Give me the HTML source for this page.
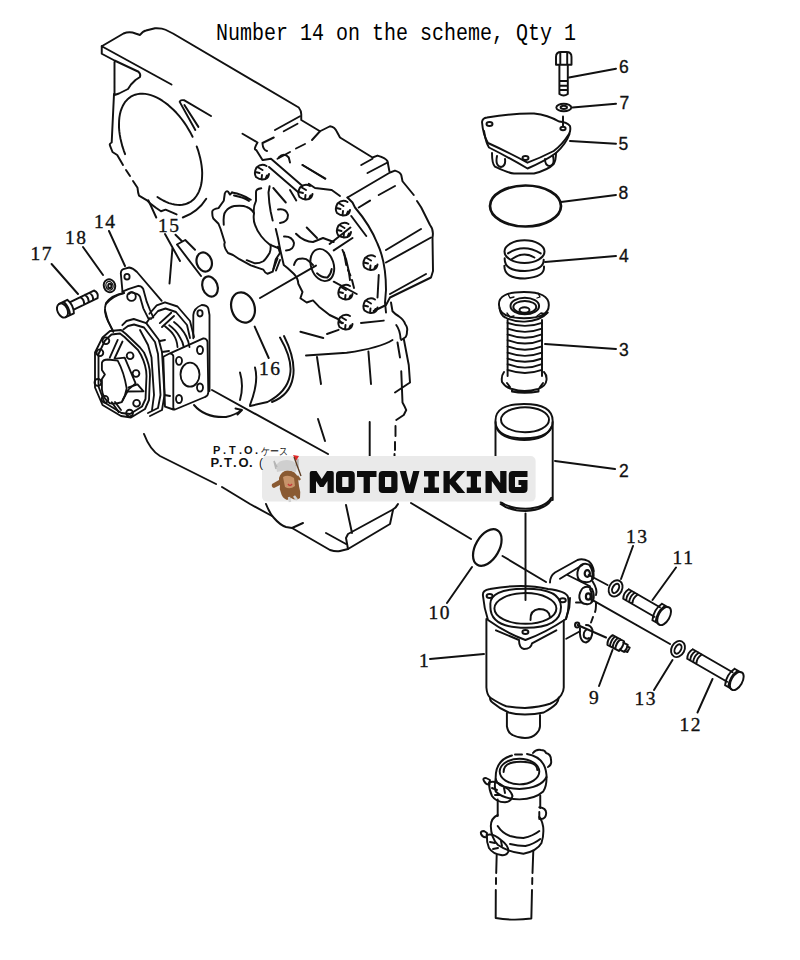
<!DOCTYPE html>
<html><head><meta charset="utf-8">
<style>
html,body{margin:0;padding:0;background:#fff;}
body{width:800px;height:960px;overflow:hidden;position:relative;}
svg{position:absolute;left:0;top:0;}
.t{font-family:"Liberation Mono",monospace;font-size:20px;fill:#000;}
.n{font-family:"Liberation Serif",serif;font-size:19.5px;fill:#111;stroke:#111;stroke-width:0.35;letter-spacing:1.6px;}
.s{font-family:"Liberation Sans",sans-serif;font-size:17.5px;fill:#111;stroke:#111;stroke-width:0.3;}
.wm{font-family:"Liberation Sans",sans-serif;font-weight:bold;font-size:33px;fill:#0a0a0a;stroke:#0a0a0a;stroke-width:1.6;}
.jp{font-family:"Liberation Sans",sans-serif;font-size:11px;fill:#111;}
</style></head><body>
<svg width="800" height="960" viewBox="0 0 800 960">
<g fill="none" stroke="#111" stroke-width="1.95" stroke-linecap="round" stroke-linejoin="round">
<!-- ===== leaders right ===== -->
<path d="M569 77.5L616 68.7M572.5 107.5L616 103.7M570 141L616 143.7M561 202L616 195M545 262L616 256M545 344L616 349M555 461L615 469"/>
<path d="M633 546L621 579M676 567.5L652.5 600M712.5 679L697.5 712.5M672.5 660L654 690M612.5 650L599 686M430 659L484 654M447 603L472 567"/>
<!-- ===== leaders left ===== -->
<path d="M109 231L125 266M83 247L103 275M51.6 264L78 294M254.7 326.6L268.7 358"/>
<!-- ===== bolt 6 ===== -->
<path d="M556 64.7V57Q556 52 561 52H566.5Q571.5 52 571.5 57V64.7ZM560.3 53V64.5M567.2 53V64.5M559.4 64.7V94Q563.6 97 567.8 94V64.7M559.4 81H567.8M559.4 85.8H567.8M559.4 90H567.8"/>
<ellipse cx="563.8" cy="107.5" rx="7.5" ry="3.8" stroke-width="1.9"/>
<ellipse cx="563.8" cy="107.3" rx="3.2" ry="1.6"/>
<!-- ===== cover 5 ===== -->
<path d="M482 122Q482.5 118 487 117.5Q515 113 534 113.5Q548 115 559 121.5Q567 122 570 126Q571 131 569 134Q562 145 553.7 151Q540 158 527.5 162.7Q510 153 488 143Q483 135 482 122Z"/>
<path d="M484 131Q486 143 489 147.5Q508 157 527.5 168.5Q545 161 556 153Q566 144 569.5 134"/>
<path d="M492 153Q492 164 495 166.7Q508 173 514 173.5H534Q548 170 553.7 164Q556 160 556 153"/>
<path d="M497 156Q495 166 501 167Q506 166 505 159M545 159Q545 166 550 166Q555 165 553 156"/>
<ellipse cx="489.5" cy="124" rx="3" ry="2"/><ellipse cx="563" cy="128.5" rx="2.6" ry="1.8"/><ellipse cx="525.5" cy="158" rx="3" ry="2"/>
<path d="M563 116.5V126.5"/>
<!-- ===== o-ring 8 ===== -->
<ellipse cx="525.5" cy="206" rx="35.5" ry="20.5" stroke-width="2.7"/>
<!-- ===== spring 4 ===== -->
<g stroke-width="2">
<ellipse cx="524.5" cy="251.6" rx="20" ry="11.3"/>
<path d="M508 253.4Q523.5 243 540.7 253.4M512 259Q523.5 251 534.4 257.5"/>
<path d="M504.7 258.2Q504 271 525 271Q544 270 543.7 259.7M504.4 265.7Q504 278.5 525 278.5Q545 277 544 266.5"/>
</g>
<!-- ===== filter 3 ===== -->
<path d="M499 305Q498 292 524 292Q549 292 548.8 305Q549 318 524 318.2Q499 318 499 305Z"/>
<path d="M499.6 308Q500 315 505.3 317.5Q514 322 524.8 321.6Q540 321 547.7 312.5"/>
<ellipse cx="524.8" cy="306" rx="14.3" ry="8.3"/>
<ellipse cx="524.8" cy="307" rx="11.5" ry="6"/>
<ellipse cx="524.5" cy="310" rx="5" ry="2.8"/>
<path d="M508 294L510 298L514 297M538 293L540 297L537 298M507 313L510 317L514 316M537 316L541 313L546 314" stroke-width="1.3"/>
<path d="M507.6 322.8Q525 329 542 322.8M507.6 328.7Q525 335 542 328.7M507.6 334.4Q525 341 542 334.4M507.6 340.1Q525 347 542 340.1M507.6 346.4Q525 353 542 346.4M507.6 352.7Q525 359 542 352.7M507.6 358.5Q525 365 542 358.5M507.6 364.2Q525 371 542 364.2M507.6 369.9Q525 376 542 369.9" stroke-width="1.9"/>
<path d="M507.6 320V376M542 320V376"/>
<path d="M504 372Q501 376 502 382Q506 388 512 389Q524 393 538 389Q546 386 546.5 380Q547 375 544 372M507 383L510 387M540 387L543 383M512 389V391.5Q524 394 538.5 391.5V389"/>
<!-- ===== cylinder 2 ===== -->
<path d="M495.5 421Q495 404 524 404Q552.7 404 552.7 421Q552.7 438 524 438.3Q495.5 438 495.5 421Z" stroke-width="1.9"/>
<ellipse cx="525" cy="419.7" rx="24" ry="12.5"/>
<path d="M496.5 428Q502 439.6 524.2 440Q546 439.6 551.5 427"/>
<path d="M495.5 422V498M552.7 422V500"/>
<path d="M500.6 502Q510 508.7 525.6 508.7Q545 508 551.3 497.8M500.6 504Q510 511 525.6 511Q545 510 551.3 500"/>
<path d="M525.5 513.5V600"/>
<!-- ===== o-ring 10 ===== -->
<ellipse cx="487.3" cy="547.5" rx="11.8" ry="20" transform="rotate(30 487.3 547.5)" stroke-width="2.2"/>
<!-- alignment lines -->
<path d="M212 390L328 454M411 503L471 539M502.5 556L546 582M588.7 575L607.5 585M590 598.7L670 644M577.5 625L606 637.5"/>
<path d="M260 298L316 265.6"/>
<!-- ===== housing 1 ===== -->
<path d="M483 596Q482 590 490 589Q523 583 548 589Q566 591 568 597Q570 606 566 619Q545 633 525.4 640Q506 633 488 620Q484 608 483 596Z"/>
<path d="M490.4 605Q489 588.8 525.7 588.8Q561 588.8 561 607Q561 627.8 525.7 627.8Q490.4 627.8 490.4 607Z"/>
<ellipse cx="525.4" cy="608.4" rx="31" ry="15.4"/>
<path d="M530.5 620Q530 610 539 609Q549 609 550 617"/>
<ellipse cx="489.6" cy="596" rx="3" ry="2"/><ellipse cx="562.8" cy="600.2" rx="3" ry="2"/><ellipse cx="525.4" cy="632" rx="3" ry="2"/>
<path d="M496 630.3L519 640Q519 648 524 649Q531 649 532 643.3L556.3 630.3"/>
<path d="M566 619L569.3 607.5L570 598"/>
<path d="M486.4 619V687.5Q487 695 490 697.5Q500 704 506.25 706.25Q515 708 525 708Q540 707 550 703.75Q558 700 561.25 695Q563.75 691 563.75 687.5V620.5"/>
<path d="M490 697.5Q490 701 492.5 702.5Q500 709 508.75 712.5Q515 714.4 525 714.4Q535 714.4 543.75 712.5Q552 708 556.25 703.75Q558.75 700 558.75 697.5"/>
<path d="M506.9 713V726.25Q508 733 512.5 735Q518 738 525 738Q532 738 536.25 733.75Q540 730 540 726.25V715"/>

<!-- bracket -->
<path d="M550 582.5Q550 576 555 572.5L577.5 560Q582.5 558 588.75 561.25Q593 565 593.75 571"/>
<path d="M560 578.75L582.5 565M567.5 575L590 586.25"/>
<path d="M581 565Q586 562 591 566Q595 572 593 579Q590 583 585 582M580 566Q576 572 578 578Q580 582 585 582"/>
<path d="M590 566Q594 572 592 579"/>
<ellipse cx="587.3" cy="573.5" rx="2.6" ry="3.4" stroke-width="2.2"/>
<path d="M583 588Q588 585 592 589Q595 595 593 601Q590 605 586 604M582 589Q578 595 580 600Q582 604 586 604"/>
<path d="M590 589Q593 595 591.5 601"/>
<ellipse cx="588.3" cy="596.5" rx="2.4" ry="3.2" stroke-width="2.2"/>
<path d="M592.5 581.25Q598 590 596 595M596 603Q596 610 595 612M593 617Q592 620 591 622.5"/>
<path d="M580 628Q579 642 586 642.5Q592.5 640 592.5 630Q591 625 586 625M586 630Q583 632 584 637Q587 640 589 638"/>
<ellipse cx="577.2" cy="625" rx="2.2" ry="2.5"/>
<path d="M566.25 638.75L580 631.25M576 602.5L581 602.5"/>
<!-- washers 13 -->
<ellipse cx="615.6" cy="588.4" rx="6.5" ry="8.5" transform="rotate(28 615.6 588.4)" stroke-width="1.9"/>
<ellipse cx="615.6" cy="588.4" rx="3" ry="5" transform="rotate(28 615.6 588.4)"/>
<ellipse cx="678" cy="649" rx="6.5" ry="8.5" transform="rotate(28 678 649)" stroke-width="1.9"/>
<ellipse cx="678" cy="649" rx="3" ry="5" transform="rotate(28 678 649)"/>
<!-- bolt 11 -->
<g transform="translate(626 594) rotate(30)">
<path d="M0 -5.5L36 -5.5M0 5.5L36 5.5M0 -5.5Q-3 0 0 5.5M3.5 -5.5Q0.5 0 3.5 5.5M7 -5.5Q4 0 7 5.5M10.5 -5.5Q7.5 0 10.5 5.5"/>
<path d="M36 -9.5L43 -9.5M36 9.5L43 9.5M36 -9.5Q31.5 0 36 9.5M39.5 -9Q35.5 0 39.5 9"/>
<ellipse cx="44" cy="0" rx="5.5" ry="10"/>
</g>
<!-- bolt 12 -->
<g transform="translate(690 654) rotate(30)">
<path d="M0 -5.5L46 -5.5M0 5.5L46 5.5M0 -5.5Q-3 0 0 5.5M3.5 -5.5Q0.5 0 3.5 5.5M7 -5.5Q4 0 7 5.5M10.5 -5.5Q7.5 0 10.5 5.5"/>
<path d="M46 -9.5L53 -9.5M46 9.5L53 9.5M46 -9.5Q41.5 0 46 9.5M49.5 -9Q45.5 0 49.5 9"/>
<ellipse cx="54" cy="0" rx="5.5" ry="10"/>
</g>
<!-- plug 9 -->
<g transform="translate(610 640) rotate(28)">
<path d="M0 -5.5L13 -5.5Q15 0 13 5.5L0 5.5Q-3 0 0 -5.5ZM3 -5.5Q0.5 0 3 5.5M6 -5.5Q3.5 0 6 5.5M9 -5.5Q6.5 0 9 5.5"/>
<path d="M13 -4H18Q19.5 0 18 4H13M18 -2.5H21V2.5H18"/>
</g>
<!-- ===== hose assembly ===== -->
<path d="M495.7 779Q495 760 512 755.5M527 754Q545 757 546.5 775Q547 786 543.2 791.5Q535 799 519.5 799.4Q503 799 495.7 791.5Q494 786 495.7 779"/>
<path d="M515 754.5H522"/>
<path d="M495.7 779Q497 788 519.5 789Q541 788 546.5 777"/>
<ellipse cx="519.5" cy="771.6" rx="19.8" ry="12.8"/>
<path d="M503.6 772Q503.6 761.8 520.5 761.8Q537.3 761.8 537.3 770"/>
<path d="M533 753Q536 749 541 750Q545 750 546 753Q551 754 551 760Q552 765 548 767"/>
<path d="M484 781Q482 778 486 778L490 780L489.5 784.5Q486 785 484 781Z"/>
<path d="M489 782.5Q495 780 503 786Q511 790 512.5 796Q511 802 505 802.3Q496 802 492 796Q489 790 489 782.5Z"/>
<path d="M492 788L497 790M495 795L500 795M504 788L505 793"/>
<path d="M497.7 799.4V816M540.25 795.4V808M539.3 819V812"/>
<path d="M539.3 807.3Q546 808 546.2 813Q546 819 541 819"/>
<path d="M497.7 815Q491 818 490.8 826Q491 838 498 845Q508 852 523.4 853.8Q537 851 541.5 843Q544 835 543.2 827Q542 820 539.3 817"/>
<path d="M497.7 826Q502 833 510 836Q517 838 523.4 838Q533 836 539.3 831M510 844Q518 846 525.4 846Q534 844 540.25 839"/>
<path d="M481 834Q480 831 484 831L487 833L486.5 837Q483 838 481 834Z"/>
<path d="M486.8 835Q493 833 501 840Q508 845 508.6 851Q507 856 501 855Q493 854 489 848Q486.5 842 486.8 835Z"/>
<path d="M490 842L495 843M493 849L498 848M501 841L502 846"/>
<path d="M496.7 854.8L496.2 873M496 878V884M495.8 890L495.7 918M533.3 850.8L532.5 873M532.3 878L532.2 884M532 890L531.35 918M495.7 918Q513 921 531.35 918.5"/>
<!-- ===== small parts left ===== -->
<g transform="translate(62.5 310.5) rotate(-26)">
<ellipse cx="0" cy="0" rx="5" ry="7.5"/>
<path d="M0 -7.5L9 -7.5Q12.5 0 9 7.5L0 7.5M5 -7Q7.5 0 5 7"/>
<path d="M10.5 -4.2L37 -4.2Q40.5 0 37 4.2L10.5 4.2M22 -4.2Q24.5 0 22 4.2M27 -4.2Q29.5 0 27 4.2M32 -4.2Q34.5 0 32 4.2"/>
</g>
<ellipse cx="109.5" cy="285.75" rx="5.7" ry="6.6" transform="rotate(-20 109.5 285.75)"/>
<ellipse cx="109.5" cy="285.75" rx="3.5" ry="4.3" transform="rotate(-20 109.5 285.75)" stroke-width="1.3"/>
<ellipse cx="109.8" cy="285.9" rx="1.6" ry="2.2"/>
<ellipse cx="204.2" cy="262" rx="7.5" ry="9.7" transform="rotate(-18 204.2 262)" stroke-width="2.2"/>
<ellipse cx="210" cy="286.5" rx="7.5" ry="10.3" transform="rotate(-20 210 286.5)" stroke-width="2.2"/>
<ellipse cx="243" cy="307.5" rx="11.5" ry="15.5" transform="rotate(-18 243 307.5)" stroke-width="2.2"/>
<path d="M165 234L180 261M175.5 234.75L181.5 240.75M177 244.5L185.25 240L195 249.75M177 244.5L201 276M172.5 247.5L169.5 283.5M148.4 200.3L156.25 217.5"/>
</g>
<!-- ===== transmission case ===== -->
<g fill="none" stroke="#111" stroke-width="1.95" stroke-linecap="round" stroke-linejoin="round">
<!-- top flange -->
<path d="M101.75 46.25L123.5 33.5Q129.5 31 135.5 33.5L140 35Q143 31 146 30.5L155 28.25Q162 28 165.5 29.75L173 33.5L298.75 107.5Q301.5 111 301.25 115V120L320 131.25L330 126.25Q335 127 337 132L340 137.5L372.5 157.5L377.5 155.6Q386 158 387.5 161.25L389.4 171.25"/>
<path d="M101.75 46.25V53.75L114.5 60.5L138.5 71.75Q141 74 140 77L135.5 80L131 84.5L128 89L119 93.5L114.5 95M101.75 46.25L171.5 84.5M114.5 62V94"/>
<!-- bell housing -->
<path d="M114 94L111.7 142.5Q109 144 110 145.6L112.5 152L117.2 155L123 165M126 170L130 176M133 181L137.5 187.8Q138 193 139 195.6L147 200.3L150 203.4L156.25 208L161 211.25L165.6 209.7L176.6 214.4"/>
<path d="M125.1 154.2 L123.7 150.3 L122.4 146.4 L121.4 142.5 L120.5 138.7 L119.8 134.9 L119.3 131.2 L119.0 127.6 L119.0 124.1 L119.1 120.7 L119.4 117.4 L119.9 114.3 L120.6 111.4 L121.6 108.6 L122.7 106.1 L124.0 103.8 L125.4 101.6 L127.1 99.8 L128.9 98.1 L130.8 96.7 L132.9 95.6 L135.2 94.7 L137.5 94.1 L140.0 93.8 L142.6 93.7 L145.2 93.9 L148.0 94.4 L150.8 95.1 L153.6 96.1 L156.5 97.4 L159.4 98.9 L162.3 100.7 L165.2 102.7 L168.1 104.9 L170.9 107.4 L173.7 110.0 L176.4 112.8 L179.1 115.9 L181.6 119.0 L184.1 122.4 L186.4 125.8 L188.6 129.4 L190.7 133.1 L192.6 136.8M196.7 146.4 L198.1 150.3 L199.2 154.2 L200.2 158.0 L201.0 161.9 L201.6 165.6 L202.0 169.3 L202.2 172.9 L202.1 176.3 L201.9 179.6 L201.5 182.8 L200.9 185.8 L200.0 188.7 L199.0 191.3 L197.8 193.8 L196.4 196.0 L194.9 198.0 L193.2 199.8 L191.3 201.3 L189.3 202.5 L187.1 203.5 L184.8 204.3 L182.4 204.8 L179.8 205.0 L177.2 204.9 L174.5 204.5 L171.8 203.9 L168.9 203.1 L166.1 201.9 L163.2 200.5 L160.3 198.9 L157.4 197.0"/>
<path d="M206.25 198.75Q198 212 182.8 217.5"/>
<path d="M179.7 101.9Q180 99.5 184.4 100.3L211 116M179.7 101.9L195.3 130M184.4 105L198.4 126.9"/>
<!-- strip/top face right -->
<path d="M275 130L300 116.25M283.75 131.25L297.5 123.75"/>
<path d="M242.5 133.75L257.5 142.5Q253 150 256.25 150L262.5 160M262.5 143L273.75 137.5M262.5 143.75Q263 150 267 151"/>
<path d="M277.5 158.75L290 152M296 148.5L305 144M312 140L320 131.25"/>
<path d="M278.75 157.5Q284 152 288.75 157.5L290 162.5M302.5 165L325 178.75"/>
<path d="M361.25 165L372.5 158.75M367.5 173L387.5 162.5"/>
<!-- big housing -->
<path d="M347.5 197.5L390 172.5L395 170.6Q400 172 401.25 175L402.5 181.25L413.75 195M417 201L421.25 207.5L430 225Q434 230 432.5 237.5L433 271L431 277.5L390 297.5L386 305L373.75 311"/>
<path d="M347.5 197.5L352.5 202.5L355 207.5Q370 225 377.5 243.75Q386 262 386 290L385 302.5L386 312.5"/>
<path d="M351.25 216L366.25 236M378.75 195L395 186M358.75 207.5L370 200.6M386 250L421 229M386 262.5L431 237.5M390 294L426 274"/>
<path d="M378.75 275L377.5 297.5M342.5 250L346 259L348.75 271L350 280"/>
<!-- gear housing left small flange -->
<path d="M232 192.5L230 194.6L228 191.5Q226 190.5 224.8 193.5L223.75 200.8L218.5 208.1Q213 209 212.3 211.25Q212 216 213.3 218.5L218.5 223.75L220.6 229L224.8 242.5Q223 246 228 253L233 255L239.4 259.2L250.8 265.4L263.3 269.6Q265 273 267.5 273.75L272.7 271.7L275.8 259.2L280 253L278 246.7"/>
<path d="M232 192.5Q242 194 250.8 199.8M234 195.5Q243 197 249 201"/>
<path d="M223.75 224.8Q223 214 225.8 211.25Q229 207 234.2 206Q243 205 246.7 207Q252 209 254 213.3"/>
<path d="M270.6 244.6Q271 250 269.6 253Q266 259 263.3 261.25Q259 263.5 255 263.3L246.7 260.2"/>
<path d="M273.5 269L277.5 258.5M276 270.5L280 260"/>
<!-- big gear housing -->
<path d="M261.25 188.3Q256 189 256 192L256 200.8Q253 207 254 213.3Q253 220 255 224.8Q257 231 261.25 236.25Q265 241 269.6 244.6L280 248.75"/>
<path d="M269.6 186.25L268.5 192.5Q269 203 270.6 211.25L272.7 220.6M275.8 229L278 238.3L280 248.75L283.75 265L287.5 268L293.75 273.75Q298 278 298.3 283.75L302.5 292L300.4 298.3L306.7 302.5L313 300.4L319 306.7L329.6 315L338 319L342 323.3"/>
<path d="M263 160L271 158.75L302.5 186M269 167L298 192M273.3 188L285.8 202.5M290 190L296.25 200.4"/>
<path d="M302.5 165L325.4 178.5"/>
<path d="M308.75 183.75Q312 186 315 188L331.7 190L340 196"/>
<path d="M278 209.5Q286 208 288 215Q288 222 280 223M284 236.5Q292 236 294 243Q294 250 286 250.5"/>
<path d="M296 233.75Q300 238 304.6 240Q309 242 313 242L323 238L333.75 242M306.7 227.5L317 238"/>
<path d="M294 265Q296 258 300.4 258.75Q306 258 308.75 261L313 265"/>
<ellipse cx="322.3" cy="265" rx="11.3" ry="16.5" transform="rotate(-18 322.3 265)"/>
<path d="M317 273.3Q322 278 327.5 277.5Q331 274 331.7 269"/>
<path d="M329.6 244L350.4 227.5M333.75 250.4L352.5 238M333.75 281.7L356.7 294"/>
<path d="M344 252.5L346.25 265M348 270L350.4 275.4M352 280L354 288"/>
<path d="M300.4 331.7L323.3 338M327 334L338.6 329.8"/>
<!-- bolts -->
<defs><g id="b">
<path d="M5 -6Q0 -9 -5 -4.5Q-8 1 -5.5 5Q-1 8.5 4 7Q7 5.5 7.5 2M-4 -5L1 -2M0 7.5L0.5 3M4 7L5.5 3.5M-6 0L-2 1"/>
</g></defs>
<use href="#b" x="261.5" y="172"/><use href="#b" x="305" y="192"/><use href="#b" x="342.5" y="208"/><use href="#b" x="343.5" y="230"/><use href="#b" x="370" y="262.5"/><use href="#b" x="345" y="292"/><use href="#b" x="370" y="305.5"/><use href="#b" x="345" y="322"/>
<!-- lower body -->
<path d="M391 302.5L392.5 311.25Q396 315 398.75 316.25Q404 320 405 323.75Q408 328 407 331.25Q407 336 405 337.5L401.25 340M396.25 325Q400 330 400.6 338.75M403.75 338.75L408.75 365L410 382.5L395 392.5M397.5 342.5L400 357.5M401.25 371.25L402.5 402.5Q405 407 406.25 410L403.75 415L396.25 420M395.5 426V436M395 442V450M394.5 454V457"/>
<path d="M306 355.5L346.7 352.8Q380 348 392.5 340M361 323L383.75 320.6"/>
<path d="M317 357L321 384M318 419L325 441M368.4 351.5L371 384M369.7 422V457"/>
<path d="M280 337.5Q293 360 290 375Q287 392 267.5 402L250 406M284 336Q296 360 293 377Q290 395 272 402M255 367.5Q259 382 250 405"/>
<path d="M194 405Q205 418 226 417Q235 415 242 410M235.5 408.5L242 410L237.5 414.5M240 372.5Q244 386 240 400"/>
<path d="M144 434Q150 450 160 456L216 484M222 487L250 504L272 516"/>
<path d="M266 504Q270 514 274 518Q280 525 286 527L292 528L303 523M292 528L330 550Q336 552 340 551L348 549L390 524L393 510"/>
<path d="M326 533L346 544M348 549L346 538L348 534L392 510Q396 508 398 504M346 505L352 533"/>

</g>
<!-- ===== pump 14 ===== -->
<g fill="none" stroke="#111" stroke-width="1.85" stroke-linecap="round" stroke-linejoin="round">
<!-- bracket plate -->
<path d="M122.5 291.7L120.8 273.3Q121 270 123.3 269.2L129.2 267.5Q133 268 137 272L161.7 300.8"/>
<ellipse cx="127" cy="276.7" rx="2.6" ry="2.8"/>
<!-- arm -->
<path d="M122.5 291.7L128.3 289.2L138.3 285.8Q142 286 143.3 289.2L146.7 301.7L150 310L153.3 317.5"/>
<path d="M135 293.3Q139 294 140 296.7L143.3 308.3L148.3 318.3"/>
<circle cx="131.5" cy="296.5" r="4.3"/>
<path d="M129 294Q131 291 134 293"/>
<!-- cylinder behind -->
<path d="M124 293Q112 295 106 303Q103 312 108.3 321.7L113.3 331.7"/>
<!-- front cover -->
<path d="M95 352.5L102.5 337.5L110 331L121 330L126 334L140 347.5L144 352.5Q150 365 150 375L149 400L145 409L131 417.5L121 416L102.5 405L95 387.5Z"/>
<path d="M98.5 354L105 340.5L111.5 334.5L120 333.5L124.5 337L138 350L141 355Q146.5 366 146.5 376L145.5 399L142 406.5L130 414L121.5 413L104.5 402.5L98.5 386.5Z"/>
<path d="M101.9 363Q102.5 359.5 108 359.5L117.7 360.6Q124 372 126.7 388.4Q125.5 396 121.7 402.2Q115 404.5 109.8 403.2Q102.5 398 101.9 389.4L101.9 379L104.9 374.5L101.9 370Z"/>
<path d="M115.8 358.7L124.7 357.7L135.6 383.4L128.6 389.4L122.7 400.2"/>
<path d="M109.8 357.7L117.7 339.9M114.5 358.5L122.5 341.5M128.6 387.4L137.5 384.4L143.5 391.3M126.7 391.5L143.5 391.3M111.8 402.2L118.7 412.1M115 402L121 410"/>
<!-- bands -->
<path d="M122.3 325.2L126.5 321L133.75 319L146.25 323.1L158.75 339.8L162 352L164.5 395L162 410L150 416"/>
<path d="M123.3 329.4L128 326L134 324.5L144 327.5L155 342L158 354L160.5 395L158 408L148 413"/>
<path d="M140 330L148 345L151.5 357.5L154 395L152 410"/>
<path d="M149.4 313.75L156.7 305.4L165 302.3L177.5 306.5L190 321L194 337"/>
<path d="M151 319L158 311L165.5 308.5L176 312L187 325L190 338"/>
<path d="M146.25 323.1L150 318M159.8 323.1L171.25 312.7M162 327L174 316"/>
<path d="M165 326.25Q172 332 173.3 334.6Q177 340 177.5 347M169.2 325.2Q176 330 179.6 336.7Q183 342 183.75 347M174 322Q182 328 186 336Q189 342 189.5 347"/>
<path d="M160 341L165 340M162 352L169 351M164.5 395L170 396"/>
<path d="M105.8 304.2Q112 296 124 293M105 310Q107 318 108.3 321.7L113.3 331.7"/>
<!-- bolts -->
<circle cx="105.9" cy="340.8" r="3.4"/><circle cx="99.9" cy="352.7" r="3.4"/><circle cx="130.1" cy="355.7" r="3.4"/><circle cx="136" cy="373.5" r="3.4"/><circle cx="136.6" cy="403.2" r="3.4"/><circle cx="129.6" cy="413.1" r="3.4"/><circle cx="97.9" cy="382.4" r="3.4"/><circle cx="104.9" cy="399.3" r="3.4"/>
<!-- rear plate -->
<path d="M170 353.3L203.3 338.3Q207 338.5 207.5 342L208.3 392.5Q208 396 205 397L175 409.5Q173.3 409.5 173.3 407L173.3 356Q173 354 170 353.3L163.3 356.7L165 406.7L173.3 409.5"/>
<ellipse cx="190" cy="374.6" rx="9.5" ry="12"/>
<ellipse cx="179" cy="360.8" rx="3" ry="4"/><ellipse cx="200" cy="350" rx="3" ry="4"/><ellipse cx="179" cy="399" rx="3" ry="4"/><ellipse cx="200" cy="387.5" rx="3" ry="4"/>
<!-- back ear -->
<path d="M193.3 338.3V315Q194 308 201.7 305Q207 305 208.3 308.3L209.5 315V391"/>
<ellipse cx="200" cy="313.3" rx="2.6" ry="3.2"/>
</g>
<!-- ===== watermark ===== -->
<rect x="262" y="456" width="273.6" height="45.6" rx="5" fill="#eaeaea"/>
<g fill="#0c0c0c" fill-rule="evenodd">
<path d="M309.75 493V473Q309.75 471 311.75 471H316.5L321.75 479L327 471H331.75Q333.75 471 333.75 473V493H327.5V481L323.5 487H320L316 481V493Z"/>
<path d="M336 475Q336 471 340 471H350.75Q354.75 471 354.75 475V489Q354.75 493 350.75 493H340Q336 493 336 489ZM342.2 477V487H348.5V477Z"/>
<path d="M357 471H376.5V477H369.9V493H363.6V477H357Z"/>
<path d="M378.75 475Q378.75 471 382.75 471H393.5Q397.5 471 397.5 475V489Q397.5 493 393.5 493H382.75Q378.75 493 378.75 489ZM385 477V487H391.25V477Z"/>
<path d="M399.75 471H406L409.6 485L413.2 471H419.5L413.5 493H405.7Z"/>
<path d="M424 471H439V476.5H434.7V487.5H439V493H424V487.5H428.3V476.5H424Z"/>
<path d="M443.5 471H449.8V479.5L457.5 471H465.25L455.6 481.5L465.25 493H457.5L449.8 484V493H443.5Z"/>
<path d="M466.75 471H481V476.5H477V487.5H481V493H466.75V487.5H470.75V476.5H466.75Z"/>
<path d="M485.5 493V471H491.8L500.2 483V471H506.5V493H500.2L491.8 481V493Z"/>
<path d="M512.75 471H527.5V477H515V487H521.2V485H518.5V480H527.5V489Q527.5 493 523.5 493H512.75Q508.75 493 508.75 489V475Q508.75 471 512.75 471Z"/>
</g>
<g>
<path d="M279 478Q281 471 288 470Q296 471 298 478L299 486Q301 492 300 498Q296 501 291 498L287 500Q282 498 281 493Q279 489 280 485L274 488Q271 487 272 484L279 480Z" fill="#8a5a32"/>
<path d="M283 477Q288 474 294 478L295 486Q290 490 285 487Z" fill="#c8946a"/>
<path d="M288 484Q290 487 292 484" stroke="#c83a3a" stroke-width="1.4" fill="none"/>
<path d="M276 466Q278 460 287 460Q295 460 297 466L296 472Q286 469 277 472Z" fill="#cfcfcf"/>
<path d="M277 467L274 461L276 469M296 466L298 459L298 468" fill="none" stroke="#b5b5b5" stroke-width="1.5"/>
<path d="M293 455L299 456L296 461Z" fill="#e02828"/>
<path d="M294 457L301 476" stroke="#5a3a20" stroke-width="1.3"/>
<path d="M297 476L300 480" stroke="#8a5a32" stroke-width="2.5"/>
<path d="M289 497L290 502M294 496L297 500" stroke="#d0d0d0" stroke-width="2.5"/>
</g>
<!-- ===== texts ===== -->
<text class="t" x="216" y="40" transform="translate(0,-6) scale(1,1.15)">Number 14 on the scheme, Qty 1</text>
<text class="s" x="619" y="72.5">6</text>
<text class="s" x="619.5" y="109.2">7</text>
<text class="s" x="618.5" y="150">5</text>
<text class="s" x="618.5" y="199.2">8</text>
<text class="s" x="619" y="262">4</text>
<text class="s" x="619" y="356">3</text>
<text class="s" x="619" y="477">2</text>
<text class="n" x="626" y="543">13</text>
<text class="n" x="672.5" y="564">11</text>
<text class="n" x="679.5" y="731">12</text>
<text class="n" x="634.5" y="705">13</text>
<text class="n" x="589" y="704">9</text>
<text class="n" x="419" y="667">1</text>
<text class="n" x="428.5" y="618.5">10</text>
<text class="n" x="94" y="227.5">14</text>
<text class="n" x="65" y="243.5">18</text>
<text class="n" x="30.5" y="259.5">17</text>
<text class="n" x="158" y="232">15</text>
<text class="n" x="259" y="375">16</text>
<g font-family="Liberation Sans, sans-serif" font-weight="bold" fill="#111">
<text x="213" y="454" font-size="11">P</text><text x="223" y="454" font-size="11">.</text><text x="229" y="454" font-size="11">T</text><text x="239" y="454" font-size="11">.</text><text x="244" y="454" font-size="11">O</text><text x="255" y="454" font-size="11">.</text>
<text x="260.5" y="455" font-size="10.5" font-weight="normal" textLength="27" lengthAdjust="spacingAndGlyphs">ケース</text>
<text x="210.5" y="467" font-size="13">P</text><text x="219" y="467" font-size="13">.</text><text x="224" y="467" font-size="13">T</text><text x="233" y="467" font-size="13">.</text><text x="238.5" y="467" font-size="13">O</text><text x="249" y="467" font-size="13">.</text><text x="259" y="467" font-size="12" font-weight="normal">(</text>
</g>
</svg>
</body></html>
